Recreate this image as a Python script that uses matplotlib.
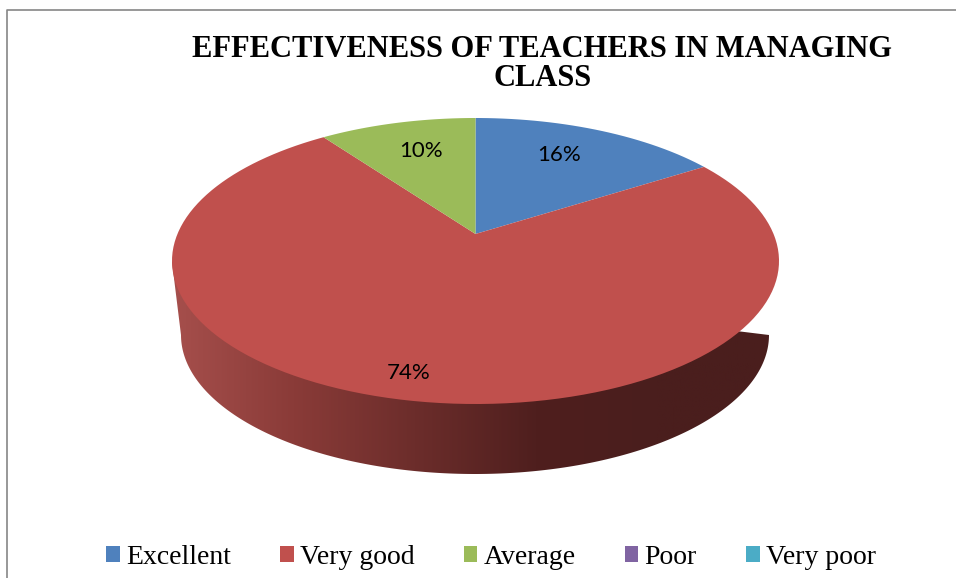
import numpy as np
import matplotlib
matplotlib.use("Agg")
import matplotlib.pyplot as plt
from matplotlib.colors import LinearSegmentedColormap
from matplotlib.path import Path
from matplotlib.transforms import Affine2D, Transform

# Chart data
categories = ["Excellent", "Very good", "Average", "Poor", "Very poor"]
percentages = [16, 74, 10, 0, 0]
colors = ["#4f81bd", "#c0504d", "#9bbb59", "#8064a2", "#4bacc6"]
title_text = "EFFECTIVENESS OF TEACHERS IN MANAGING\nCLASS"

# Side wall shading, left to right
side_colors = ["#a64f4c", "#8a3b38", "#6c2d2b", "#4f1f1e", "#4a1e1d", "#4a1e1d"]


class PieTilt(Transform):
    """Perspective view of the unit pie, landing in pixel coordinates."""
    input_dims = 2
    output_dims = 2
    is_separable = False
    has_inverse = False

    def transform_non_affine(self, values):
        values = np.asarray(values, dtype=float)
        k = 0.189
        x, y = values[:, 0], values[:, 1]
        d = 1 + k * y
        xn = x * np.sqrt(1 - k ** 2) / d
        yn = (y + k) / d
        return np.column_stack([475.5 + 303.5 * xn, 261 - 143 * yn])

    def transform_path_non_affine(self, path):
        # flatten the arcs first so the curves stay true under the perspective
        poly = path.transformed(Affine2D().scale(1000)).to_polygons()[0] / 1000
        return Path(self.transform_non_affine(poly), closed=True)


fig = plt.figure(figsize=(9.56, 5.78), dpi=100)
ax = fig.add_axes([0, 0, 1, 1])

# Top face of the pie
wedges, _ = ax.pie(percentages, colors=colors, startangle=90, counterclock=False,
                   wedgeprops={"linewidth": 0, "zorder": 3})
tilt = PieTilt() + ax.transData
for wedge in wedges:
    wedge.set_transform(tilt)

# Side wall with its gradient, clipped to the outline of the lower rim
t = np.linspace(np.pi, 0, 200)
rim_x = 475 + 294 * np.cos(t)
rim_y = 335 + 139 * np.sin(t)
outline = np.column_stack([np.r_[172, rim_x, 779], np.r_[262, rim_y, 262]])
cmap = LinearSegmentedColormap.from_list("side", side_colors)
side = ax.imshow(np.linspace(0, 1, 256).reshape(1, -1), cmap=cmap, aspect="auto",
                 extent=(172, 779, 480, 250), zorder=2)
side.set_clip_path(Path(outline, closed=True), transform=ax.transData)

ax.set_aspect("auto")
ax.set_xlim(0, 956)
ax.set_ylim(578, 0)
ax.axis("off")

# Chart frame, only the left and top edges are in view
ax.plot([7.5, 7.5, 956], [578, 9.5, 9.5], color="#868686", lw=1.2, zorder=1)

# Percentage labels
label_font = {"family": "Lato", "fontsize": 16, "color": "black", "ha": "center", "va": "center", "zorder": 5}
ax.text(559, 155, f"{percentages[0]}%", **label_font)
ax.text(409, 373, f"{percentages[1]}%", **label_font)
ax.text(421, 151, f"{percentages[2]}%", **label_font)

ax.text(542.5, 64, title_text, family="Liberation Serif", fontweight="bold", fontsize=22,
        ha="center", va="center", linespacing=1.0)

leg = ax.legend(wedges, categories, ncol=5, loc="center", bbox_to_anchor=(491, 557),
                bbox_transform=ax.transData, frameon=False,
                prop={"family": "Liberation Serif", "size": 20},
                handlelength=0.5, handleheight=0.5, handletextpad=0.22,
                columnspacing=1.76, borderpad=0, borderaxespad=0)

fig.savefig("out.png", dpi=100)
